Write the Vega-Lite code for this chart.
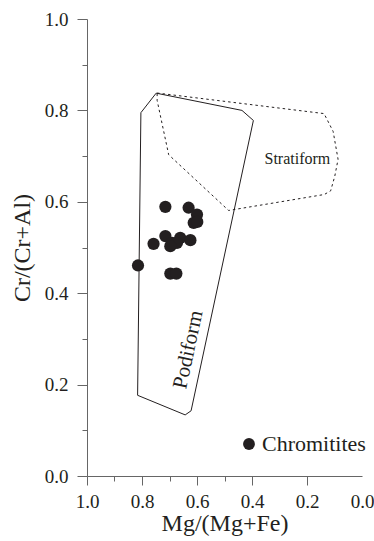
{
  "$schema": "https://vega.github.io/schema/vega-lite/v6.json",
  "width": 275,
  "height": 457,
  "autosize": "none",
  "padding": {"left": 87, "top": 19, "right": 12, "bottom": 65},
  "background": "white",
  "config": {"view": {"stroke": null}, "font": "'Liberation Serif', 'Times New Roman', serif"},
  "datasets": {
    "podiform": [
      {"i": 0, "mg": 0.7485, "cr": 0.8377},
      {"i": 1, "mg": 0.4365, "cr": 0.800},
      {"i": 2, "mg": 0.395, "cr": 0.778},
      {"i": 3, "mg": 0.6215, "cr": 0.1427},
      {"i": 4, "mg": 0.643, "cr": 0.1337},
      {"i": 5, "mg": 0.816, "cr": 0.1766},
      {"i": 6, "mg": 0.804, "cr": 0.795},
      {"i": 7, "mg": 0.7485, "cr": 0.8377}
    ],
    "stratiform": [
      {"i": 0, "mg": 0.745, "cr": 0.838},
      {"i": 1, "mg": 0.138, "cr": 0.793},
      {"i": 2, "mg": 0.105, "cr": 0.754},
      {"i": 3, "mg": 0.087, "cr": 0.693},
      {"i": 4, "mg": 0.099, "cr": 0.656},
      {"i": 5, "mg": 0.114, "cr": 0.624},
      {"i": 6, "mg": 0.137, "cr": 0.616},
      {"i": 7, "mg": 0.485, "cr": 0.581},
      {"i": 8, "mg": 0.703, "cr": 0.703},
      {"i": 9, "mg": 0.745, "cr": 0.822},
      {"i": 10, "mg": 0.745, "cr": 0.838}
    ],
    "points": [
      {"mg": 0.715, "cr": 0.589, "type": "Chromitites"},
      {"mg": 0.6305, "cr": 0.587, "type": "Chromitites"},
      {"mg": 0.600, "cr": 0.572, "type": "Chromitites"},
      {"mg": 0.612, "cr": 0.554, "type": "Chromitites"},
      {"mg": 0.599, "cr": 0.556, "type": "Chromitites"},
      {"mg": 0.758, "cr": 0.508, "type": "Chromitites"},
      {"mg": 0.715, "cr": 0.525, "type": "Chromitites"},
      {"mg": 0.691, "cr": 0.510, "type": "Chromitites"},
      {"mg": 0.661, "cr": 0.521, "type": "Chromitites"},
      {"mg": 0.673, "cr": 0.510, "type": "Chromitites"},
      {"mg": 0.624, "cr": 0.516, "type": "Chromitites"},
      {"mg": 0.697, "cr": 0.503, "type": "Chromitites"},
      {"mg": 0.8145, "cr": 0.4607, "type": "Chromitites"},
      {"mg": 0.697, "cr": 0.443, "type": "Chromitites"},
      {"mg": 0.675, "cr": 0.443, "type": "Chromitites"}
    ],
    "labels": [
      {"mg": 0.235, "cr": 0.694, "label": "Stratiform"}
    ],
    "labels2": [
      {"mg": 0.631, "cr": 0.2765, "label": "Podiform"}
    ]
  },
  "encoding": {
    "x": {
      "field": "mg",
      "type": "quantitative",
      "scale": {"domain": [0, 1], "reverse": true, "nice": false},
      "axis": {
        "title": "Mg/(Mg+Fe)",
        "values": [1, 0.9, 0.8, 0.7, 0.6, 0.5, 0.4, 0.2, 0],
        "labelExpr": "round(datum.value*10) % 2 == 0 ? format(datum.value, '.1f') : ''",
        "tickSize": {"condition": {"test": "round(datum.value*10) % 2 == 1", "value": 5}, "value": 9},
        "tickOpacity": {"condition": {"test": "datum.value < 0.01", "value": 0}, "value": 1},
        "grid": false,
        "domainColor": "#666666",
        "tickColor": "#666666",
        "labelFont": "'Liberation Serif', 'Times New Roman', serif",
        "labelFontSize": 19,
        "labelColor": "#231f20",
        "labelPadding": 7,
        "labelFlush": false,
        "labelOverlap": false,
        "titleFont": "'Liberation Serif', 'Times New Roman', serif",
        "titleFontSize": 24,
        "titleFontWeight": "normal",
        "titleColor": "#231f20",
        "titlePadding": 0
      }
    },
    "y": {
      "field": "cr",
      "type": "quantitative",
      "scale": {"domain": [0, 1], "nice": false},
      "axis": {
        "title": "Cr/(Cr+Al)",
        "values": [0, 0.1, 0.2, 0.3, 0.4, 0.5, 0.6, 0.7, 0.8, 0.9, 1],
        "labelExpr": "round(datum.value*10) % 2 == 0 ? format(datum.value, '.1f') : ''",
        "tickSize": {"condition": {"test": "round(datum.value*10) % 2 == 1", "value": 5}, "value": 10},
        "grid": false,
        "domainColor": "#666666",
        "tickColor": "#666666",
        "labelFont": "'Liberation Serif', 'Times New Roman', serif",
        "labelFontSize": 19,
        "labelColor": "#231f20",
        "labelPadding": 9,
        "labelFlush": false,
        "labelOverlap": false,
        "titleFont": "'Liberation Serif', 'Times New Roman', serif",
        "titleFontSize": 24,
        "titleFontWeight": "normal",
        "titleColor": "#231f20",
        "titlePadding": 10
      }
    }
  },
  "layer": [
    {
      "data": {"name": "podiform"},
      "mark": {"type": "line", "color": "#231f20", "strokeWidth": 1},
      "encoding": {"order": {"field": "i", "type": "quantitative"}}
    },
    {
      "data": {"name": "stratiform"},
      "mark": {"type": "line", "color": "#231f20", "strokeWidth": 1, "strokeDash": [2.5, 3]},
      "encoding": {"order": {"field": "i", "type": "quantitative"}}
    },
    {
      "data": {"name": "points"},
      "mark": {"type": "point", "filled": true, "size": 150, "opacity": 1},
      "encoding": {
        "color": {
          "field": "type",
          "type": "nominal",
          "scale": {"range": ["#231f20"]},
          "legend": {
            "title": null,
            "orient": "none",
            "legendX": 151,
            "legendY": 414,
            "labelFont": "'Liberation Serif', 'Times New Roman', serif",
            "labelFontSize": 22,
            "labelColor": "#231f20",
            "symbolType": "circle",
            "symbolSize": 140,
            "symbolStrokeWidth": 0,
            "labelOffset": 2,
            "padding": 0
          }
        }
      }
    },
    {
      "data": {"name": "labels"},
      "mark": {"type": "text", "font": "'Liberation Serif', 'Times New Roman', serif", "fontSize": 16, "color": "#231f20", "align": "center", "baseline": "middle"},
      "encoding": {"text": {"field": "label"}}
    },
    {
      "data": {"name": "labels2"},
      "mark": {"type": "text", "font": "'Liberation Serif', 'Times New Roman', serif", "fontSize": 21, "color": "#231f20", "align": "center", "baseline": "middle", "angle": -78},
      "encoding": {"text": {"field": "label"}}
    }
  ]
}
